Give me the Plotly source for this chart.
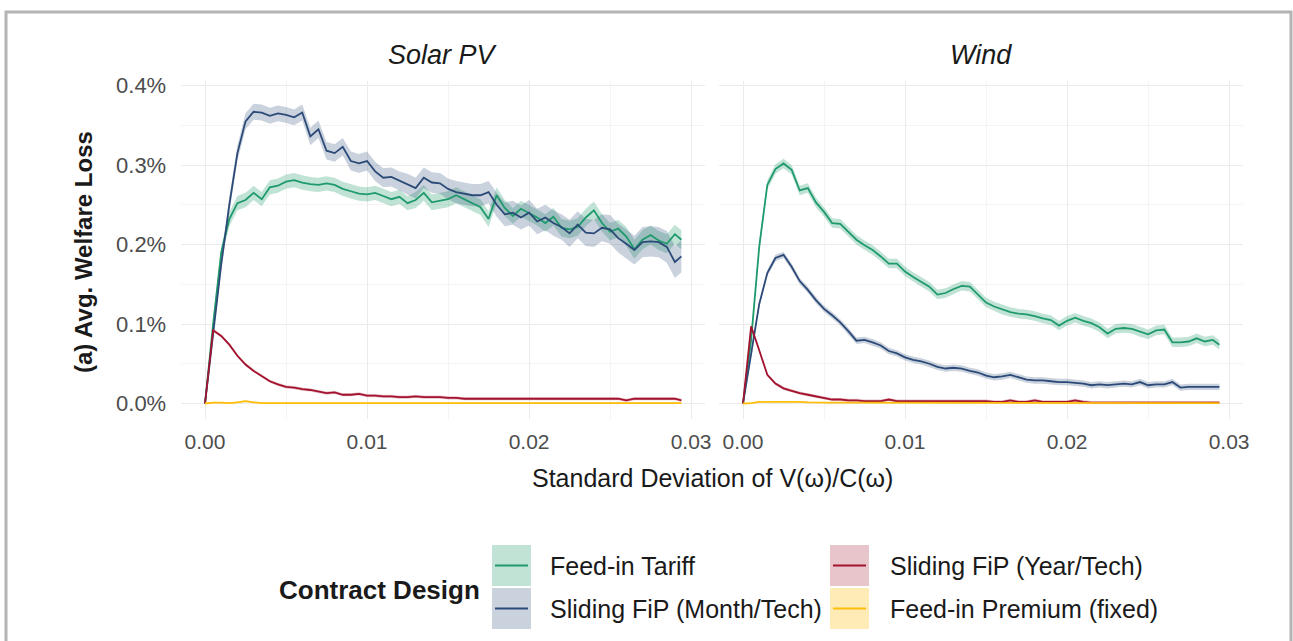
import plotly.graph_objects as go

# ---------------- data (values in %) ----------------
panels = ["Solar PV", "Wind"]
series_names = ["Feed-in Tariff", "Sliding FiP (Month/Tech)", "Sliding FiP (Year/Tech)", "Feed-in Premium (fixed)"]
line_colors = ["#1f9a6c", "#2c4a78", "#a3122e", "#ffbe0b"]
band_colors = ["rgba(31,154,108,0.28)", "rgba(44,74,120,0.25)", "rgba(163,18,46,0.25)", "rgba(255,190,11,0.30)"]

x_vals = [0, 0.0005, 0.001, 0.0015, 0.002, 0.0025, 0.003, 0.0035, 0.004, 0.0045,
          0.005, 0.0055, 0.006, 0.0065, 0.007, 0.0075, 0.008, 0.0085, 0.009, 0.0095,
          0.01, 0.0105, 0.011, 0.0115, 0.012, 0.0125, 0.013, 0.0135, 0.014, 0.0145,
          0.015, 0.0155, 0.016, 0.0165, 0.017, 0.0175, 0.018, 0.0185, 0.019, 0.0195,
          0.02, 0.0205, 0.021, 0.0215, 0.022, 0.0225, 0.023, 0.0235, 0.024, 0.0245,
          0.025, 0.0255, 0.026, 0.0265, 0.027, 0.0275, 0.028, 0.0285, 0.029, 0.0294]

solar_fit = [0, 0.10, 0.19, 0.232, 0.252, 0.256, 0.265, 0.257, 0.272, 0.274,
             0.279, 0.281, 0.278, 0.276, 0.275, 0.277, 0.275, 0.270, 0.267, 0.264,
             0.263, 0.265, 0.261, 0.257, 0.260, 0.252, 0.256, 0.265, 0.253, 0.255,
             0.257, 0.262, 0.257, 0.252, 0.247, 0.232, 0.262, 0.246, 0.236, 0.245,
             0.240, 0.234, 0.227, 0.235, 0.221, 0.219, 0.222, 0.234, 0.243, 0.227,
             0.216, 0.220, 0.210, 0.194, 0.206, 0.212, 0.205, 0.201, 0.213, 0.206]
solar_month = [0, 0.09, 0.175, 0.25, 0.315, 0.355, 0.367, 0.366, 0.362, 0.365,
               0.363, 0.360, 0.366, 0.336, 0.345, 0.318, 0.315, 0.323, 0.305, 0.302,
               0.305, 0.292, 0.284, 0.285, 0.280, 0.276, 0.271, 0.284, 0.278, 0.277,
               0.270, 0.266, 0.264, 0.262, 0.262, 0.266, 0.250, 0.238, 0.240, 0.234,
               0.240, 0.229, 0.234, 0.227, 0.222, 0.214, 0.225, 0.215, 0.214, 0.221,
               0.219, 0.208, 0.201, 0.193, 0.203, 0.204, 0.203, 0.197, 0.178, 0.185]
solar_year = [0, 0.092, 0.085, 0.074, 0.060, 0.049, 0.041, 0.035, 0.028, 0.024,
              0.021, 0.020, 0.018, 0.017, 0.015, 0.013, 0.014, 0.011, 0.011, 0.012,
              0.010, 0.010, 0.009, 0.009, 0.008, 0.008, 0.009, 0.008, 0.008, 0.008,
              0.007, 0.007, 0.006, 0.006, 0.006, 0.006, 0.006, 0.006, 0.006, 0.006,
              0.006, 0.006, 0.006, 0.006, 0.006, 0.006, 0.006, 0.006, 0.006, 0.006,
              0.006, 0.006, 0.004, 0.006, 0.006, 0.006, 0.006, 0.006, 0.006, 0.004]
solar_fixed = [0, 0.001, 0.001, 0.0005, 0.0015, 0.003, 0.0015, 0.0005, 0.0005, 0.0005,
               0.0005, 0.0005, 0.0005, 0.0005, 0.0005, 0.0005, 0.0005, 0.0005, 0.0005, 0.0005,
               0.0005, 0.0005, 0.0005, 0.0005, 0.0005, 0.0005, 0.0005, 0.0005, 0.0005, 0.0005,
               0.0005, 0.0005, 0.0005, 0.0005, 0.0005, 0.0005, 0.0005, 0.0005, 0.0005, 0.0005,
               0.0005, 0.0005, 0.0005, 0.0005, 0.0005, 0.0005, 0.0005, 0.0005, 0.0005, 0.0005,
               0.0005, 0.0005, 0.0005, 0.0005, 0.0005, 0.0005, 0.0005, 0.0005, 0.0005, 0.0005]

wind_fit = [0, 0.08, 0.197, 0.275, 0.295, 0.302, 0.294, 0.268, 0.271, 0.253,
            0.241, 0.227, 0.226, 0.216, 0.206, 0.199, 0.193, 0.185, 0.176, 0.176,
            0.166, 0.159, 0.153, 0.147, 0.137, 0.139, 0.144, 0.148, 0.147, 0.137,
            0.127, 0.122, 0.118, 0.115, 0.113, 0.112, 0.110, 0.107, 0.105, 0.098,
            0.104, 0.108, 0.104, 0.101, 0.096, 0.088, 0.094, 0.095, 0.094, 0.090,
            0.087, 0.092, 0.093, 0.077, 0.077, 0.078, 0.082, 0.078, 0.080, 0.074]
wind_month = [0, 0.06, 0.125, 0.164, 0.183, 0.187, 0.172, 0.154, 0.143, 0.130,
              0.119, 0.111, 0.102, 0.091, 0.079, 0.080, 0.077, 0.073, 0.066, 0.063,
              0.058, 0.055, 0.053, 0.050, 0.046, 0.044, 0.045, 0.044, 0.041, 0.039,
              0.035, 0.033, 0.034, 0.036, 0.033, 0.030, 0.029, 0.029, 0.028, 0.027,
              0.027, 0.026, 0.025, 0.023, 0.024, 0.023, 0.024, 0.025, 0.024, 0.027,
              0.023, 0.024, 0.024, 0.027, 0.020, 0.021, 0.021, 0.021, 0.021, 0.021]
wind_year = [0, 0.097, 0.067, 0.036, 0.025, 0.019, 0.016, 0.013, 0.011, 0.009,
             0.007, 0.005, 0.005, 0.004, 0.004, 0.003, 0.003, 0.003, 0.005, 0.003,
             0.003, 0.003, 0.003, 0.003, 0.003, 0.003, 0.003, 0.003, 0.003, 0.003,
             0.003, 0.002, 0.002, 0.004, 0.002, 0.002, 0.004, 0.002, 0.002, 0.002,
             0.002, 0.004, 0.002, 0.001, 0.001, 0.001, 0.001, 0.001, 0.001, 0.001,
             0.001, 0.001, 0.001, 0.001, 0.001, 0.001, 0.001, 0.001, 0.001, 0.001]
wind_fixed = [0, 0.0005, 0.002, 0.002, 0.0025, 0.0025, 0.0025, 0.002, 0.0015, 0.001,
              0.001, 0.001, 0.001, 0.001, 0.001, 0.001, 0.001, 0.001, 0.001, 0.001,
              0.001, 0.001, 0.001, 0.001, 0.001, 0.001, 0.001, 0.001, 0.001, 0.001,
              0.001, 0.001, 0.001, 0.001, 0.001, 0.001, 0.001, 0.001, 0.001, 0.001,
              0.001, 0.0005, 0.0005, 0.0005, 0.0005, 0.0005, 0.0005, 0.0005, 0.0005, 0.0005,
              0.0005, 0.0005, 0.0005, 0.0005, 0.0005, 0.0005, 0.0005, 0.0005, 0.0005, 0.0005]

# confidence band half-widths (in %)
solar_month_se = [0, 0.006, 0.008, 0.010, 0.010, 0.010, 0.010, 0.010, 0.010, 0.010,
                  0.010, 0.010, 0.010, 0.011, 0.011, 0.011, 0.011, 0.011, 0.012, 0.012,
                  0.012, 0.012, 0.012, 0.012, 0.012, 0.013, 0.013, 0.013, 0.013, 0.013,
                  0.013, 0.014, 0.014, 0.014, 0.014, 0.014, 0.015, 0.015, 0.015, 0.015,
                  0.016, 0.016, 0.016, 0.016, 0.016, 0.017, 0.017, 0.017, 0.017, 0.017,
                  0.018, 0.018, 0.018, 0.018, 0.019, 0.019, 0.019, 0.020, 0.020, 0.020]
solar_fit_se = [0, 0.006, 0.008, 0.009, 0.009, 0.009, 0.009, 0.009, 0.009, 0.009,
                0.009, 0.009, 0.009, 0.009, 0.009, 0.009, 0.009, 0.009, 0.009, 0.009,
                0.009, 0.009, 0.009, 0.009, 0.009, 0.009, 0.010, 0.010, 0.010, 0.010,
                0.010, 0.010, 0.010, 0.010, 0.010, 0.010, 0.010, 0.010, 0.010, 0.010,
                0.010, 0.010, 0.011, 0.011, 0.011, 0.011, 0.011, 0.011, 0.011, 0.011,
                0.011, 0.011, 0.012, 0.012, 0.012, 0.012, 0.012, 0.012, 0.012, 0.012]
wind_fit_se = 0.006
wind_month_se = 0.004
year_se = 0.002
fixed_se = 0.001

panel_data = {
    "Solar PV": [(solar_fit, solar_fit_se), (solar_month, solar_month_se),
                 (solar_year, year_se), (solar_fixed, fixed_se)],
    "Wind": [(wind_fit, wind_fit_se), (wind_month, wind_month_se),
             (wind_year, year_se), (wind_fixed, fixed_se)],
}

y_ticks = [0.0, 0.1, 0.2, 0.3, 0.4]
y_tick_text = ["0.0%", "0.1%", "0.2%", "0.3%", "0.4%"]
x_ticks = [0.0, 0.01, 0.02, 0.03]
x_tick_text = ["0.00", "0.01", "0.02", "0.03"]

# ---------------- layout helpers ----------------
W, H = 1293, 641
OFF = 0  # body margin removed via post_script
def fx(px):
    return (px - OFF) / W
def fy(py):
    return 1 - (py - OFF) / H

FONT = "Liberation Sans, Arial, sans-serif"
TICK_GREY = "#4d4d4d"
TXT = "#1a1a1a"

fig = go.Figure()

axis_ids = [("x", "y"), ("x2", "y2")]
for pi, pname in enumerate(panels):
    xa, ya = axis_ids[pi]
    for si, (vals, se) in enumerate(panel_data[pname]):
        ses = se if isinstance(se, list) else [se] * len(vals)
        upper = [v + s for v, s in zip(vals, ses)]
        lower = [max(v - s, 0) if v > 0 else v for v, s in zip(vals, ses)]
        fig.add_trace(go.Scatter(
            x=x_vals + x_vals[::-1], y=upper + lower[::-1],
            fill="toself", fillcolor=band_colors[si], line=dict(width=0),
            mode="lines", hoverinfo="skip", showlegend=False, xaxis=xa, yaxis=ya))
    for si, (vals, se) in enumerate(panel_data[pname]):
        fig.add_trace(go.Scatter(
            x=x_vals, y=vals, mode="lines", name=series_names[si],
            line=dict(color=line_colors[si], width=1.8),
            showlegend=False, xaxis=xa, yaxis=ya))

x_range = [-0.00147, 0.03087]
y_range = [-0.0195, 0.4057]
xdoms = [[fx(181.2), fx(705.2)], [fx(719.2), fx(1243.2)]]
ydom = [fy(419), fy(81)]

grid_major = "#ebebeb"
grid_minor = "#f4f4f4"

common_x = dict(range=x_range, tickvals=x_ticks, ticktext=x_tick_text,
                showgrid=True, gridcolor=grid_major, gridwidth=1.2,
                minor=dict(dtick=0.005, tick0=0, showgrid=True, gridcolor=grid_minor, gridwidth=1),
                zeroline=False, showline=False, ticks="",
                tickfont=dict(family=FONT, size=21, color=TICK_GREY),
                ticklabelstandoff=8, automargin=False, fixedrange=True)
common_y = dict(range=y_range, tickvals=y_ticks, ticktext=y_tick_text,
                showgrid=True, gridcolor=grid_major, gridwidth=1.2,
                minor=dict(dtick=0.05, tick0=0, showgrid=True, gridcolor=grid_minor, gridwidth=1),
                zeroline=False, showline=False, ticks="",
                tickfont=dict(family=FONT, size=22, color=TICK_GREY),
                ticklabelstandoff=14, automargin=False, fixedrange=True)

fig.update_layout(
    template="none",
    width=W, height=H,
    margin=dict(l=0, r=0, t=0, b=0, pad=0),
    paper_bgcolor="white", plot_bgcolor="white",
    showlegend=False,
    xaxis=dict(domain=xdoms[0], anchor="y", **common_x),
    xaxis2=dict(domain=xdoms[1], anchor="y2", **common_x),
    yaxis=dict(domain=ydom, anchor="x", **common_y),
    yaxis2=dict(domain=ydom, anchor="x2", showticklabels=False, **common_y),
)

annotations = []
for pi, pname in enumerate(panels):
    cx = (xdoms[pi][0] + xdoms[pi][1]) / 2
    annotations.append(dict(text=f"<i>{pname}</i>", x=cx, y=fy(55), xref="paper", yref="paper",
                            showarrow=False, xanchor="center", yanchor="middle",
                            font=dict(family=FONT, size=27, color=TXT)))
annotations.append(dict(text="Standard Deviation of V(ω)/C(ω)", x=fx(712), y=fy(478),
                        xref="paper", yref="paper", showarrow=False,
                        xanchor="center", yanchor="middle",
                        font=dict(family=FONT, size=25, color=TXT)))
annotations.append(dict(text="<b>(a) Avg. Welfare Loss</b>", x=fx(84), y=fy(252),
                        xref="paper", yref="paper", showarrow=False, textangle=-90,
                        xanchor="center", yanchor="middle",
                        font=dict(family=FONT, size=24, color=TXT)))
annotations.append(dict(text="<b>Contract Design</b>", x=fx(277), y=fy(590),
                        xref="paper", yref="paper", showarrow=False,
                        xanchor="left", yanchor="middle",
                        font=dict(family=FONT, size=26, color=TXT)))

shapes = []
legend_key_x = [(492, 531), (492, 531), (830, 869), (830, 869)]
legend_key_y = [(545, 586), (588, 629), (545, 586), (588, 629)]
legend_text_x = [548, 548, 888, 888]
for si, name in enumerate(series_names):
    x0, x1 = legend_key_x[si]
    y0, y1 = legend_key_y[si]
    shapes.append(dict(type="rect", xref="paper", yref="paper",
                       x0=fx(x0), x1=fx(x1), y0=fy(y1), y1=fy(y0),
                       fillcolor=band_colors[si], line=dict(width=0), layer="above"))
    cy = (y0 + y1) / 2
    shapes.append(dict(type="line", xref="paper", yref="paper",
                       x0=fx(x0 + 3), x1=fx(x1 - 3), y0=fy(cy), y1=fy(cy),
                       line=dict(color=line_colors[si], width=2), layer="above"))
    annotations.append(dict(text=name, x=fx(legend_text_x[si]), y=fy(cy),
                            xref="paper", yref="paper", showarrow=False,
                            xanchor="left", yanchor="middle",
                            font=dict(family=FONT, size=25, color=TXT)))

shapes.append(dict(type="rect", xref="paper", yref="paper",
                   x0=fx(6), x1=fx(1291), y0=fy(700), y1=fy(12),
                   line=dict(color="#b4b4b4", width=3), fillcolor="rgba(0,0,0,0)", layer="above"))

fig.update_layout(annotations=annotations, shapes=shapes)

fig.write_html("out.html", config={"displayModeBar": False},
               post_script="document.body.style.margin='0';document.body.style.overflow='hidden';")
